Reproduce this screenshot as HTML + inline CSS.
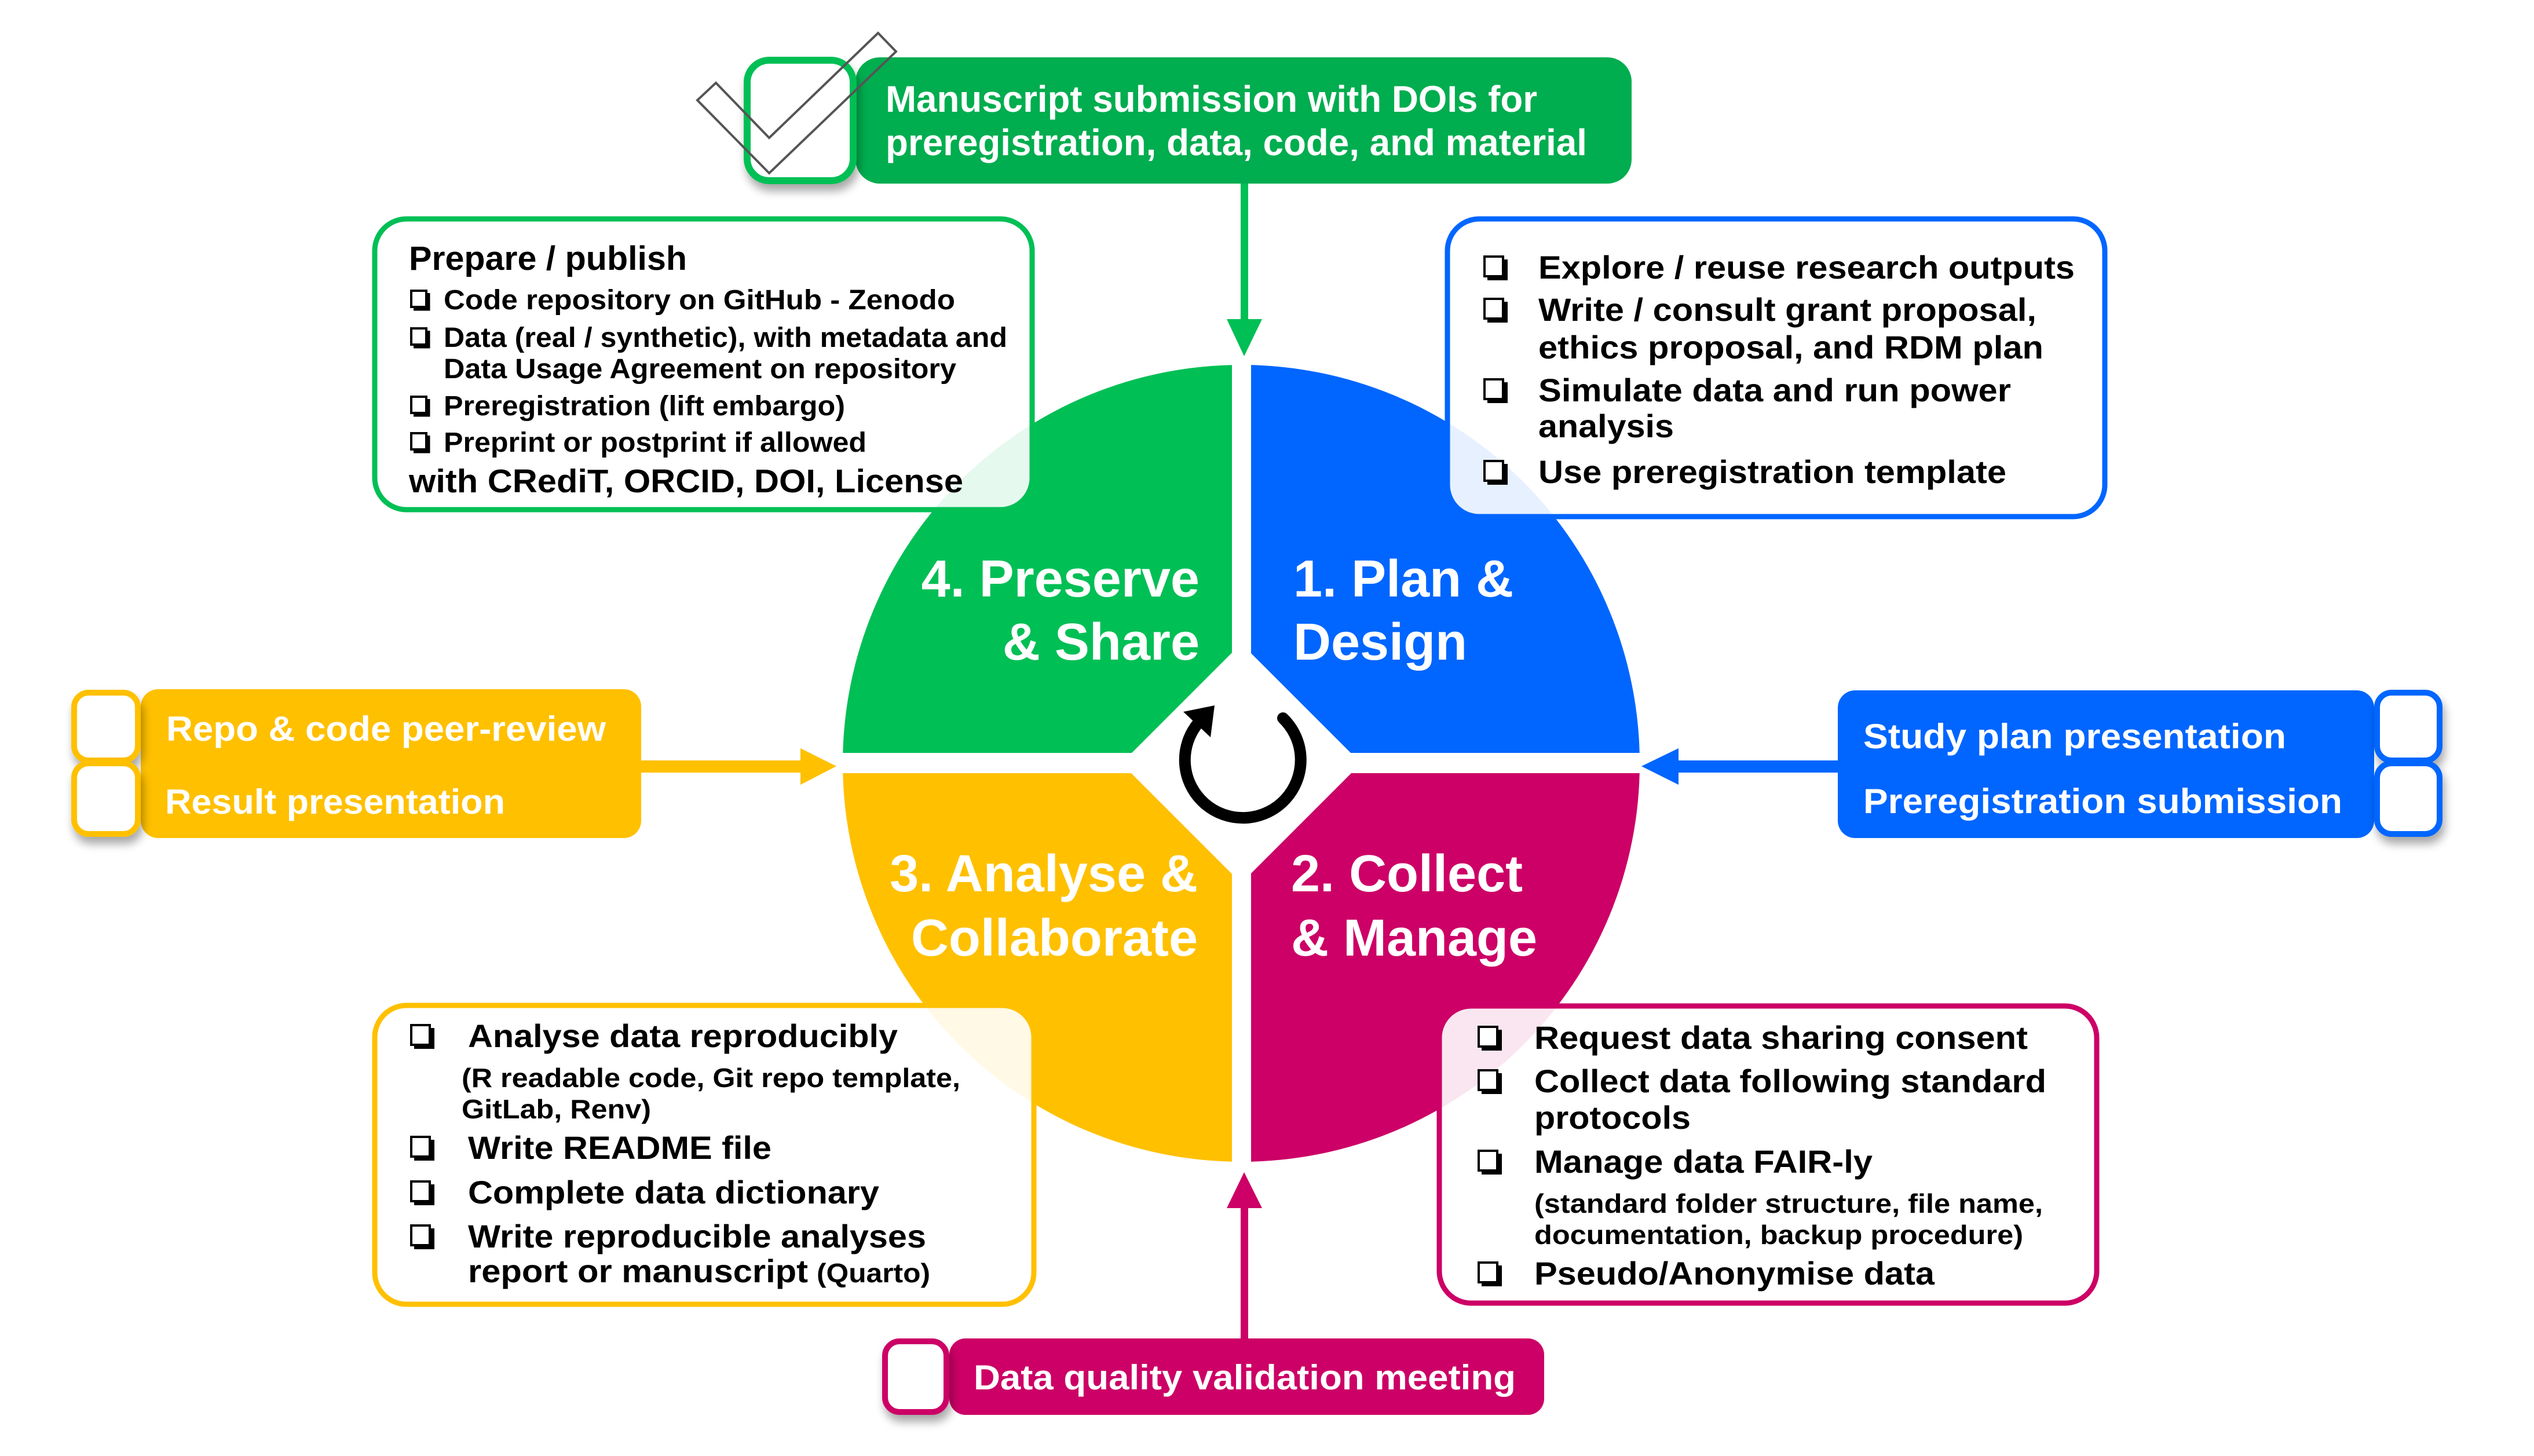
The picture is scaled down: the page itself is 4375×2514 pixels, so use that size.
<!DOCTYPE html>
<html><head><meta charset="utf-8">
<style>
html,body{margin:0;padding:0;background:#fff;}
svg{display:block;}
text{font-family:"Liberation Sans",Arial,sans-serif;font-weight:bold;}
</style></head>
<body>
<svg xmlns="http://www.w3.org/2000/svg" width="4375" height="2514" viewBox="0 0 4375 2514">
<defs>
<filter id="sh" x="-30%" y="-30%" width="160%" height="160%">
<feGaussianBlur in="SourceAlpha" stdDeviation="8"/>
<feOffset dx="4" dy="12" result="b"/>
<feComponentTransfer><feFuncA type="linear" slope="0.35"/></feComponentTransfer>
<feMerge><feMergeNode/><feMergeNode in="SourceGraphic"/></feMerge>
</filter>
<g id="cb">
<path d="M6 6 H36 V38" fill="none" stroke="#000" stroke-width="0"/>
</g>
</defs>
<rect width="4375" height="2514" fill="#fff"/>

<!-- quadrants -->
<path d="M2143,1318 L2143,630 A688,688 0 0 0 1455,1318 Z" fill="#00BF55"/>
<path d="M2143,1318 L2143,630 A688,688 0 0 1 2831,1318 Z" fill="#0066FF"/>
<path d="M2143,1318 L2831,1318 A688,688 0 0 1 2143,2006 Z" fill="#CC0066"/>
<path d="M2143,1318 L2143,2006 A688,688 0 0 1 1455,1318 Z" fill="#FFC000"/>
<rect x="2127" y="600" width="33" height="1440" fill="#fff"/>
<rect x="1420" y="1300" width="1440" height="35" fill="#fff"/>
<polygon points="2143,1111 2350,1318 2143,1525 1936,1318" fill="#fff"/>

<!-- cycle arrow -->
<path d="M2215,1240 A100,100 0 1 1 2069,1248" fill="none" stroke="#000" stroke-width="20" stroke-linecap="round"/>
<polygon points="2043,1229 2097,1218 2090,1273" fill="#000"/>

<!-- quadrant labels -->
<g fill="#fff" font-size="90">
<text x="2071" y="1030" text-anchor="end">4. Preserve</text>
<text x="2071" y="1139" text-anchor="end">&amp; Share</text>
<text x="2233" y="1030">1. Plan &amp;</text>
<text x="2233" y="1139">Design</text>
<text x="2068" y="1539" text-anchor="end">3. Analyse &amp;</text>
<text x="2068" y="1650" text-anchor="end">Collaborate</text>
<text x="2229" y="1539">2. Collect</text>
<text x="2229" y="1650">&amp; Manage</text>
</g>

<!-- top banner -->
<rect x="1477" y="99" width="1340" height="218" rx="42" fill="#00AD4F"/>
<rect x="1290" y="104" width="183" height="208" rx="38" fill="#fff" stroke="#00BF55" stroke-width="12" filter="url(#sh)"/>
<polygon points="1236,143 1328,238 1516,57 1547,89 1328,299 1204,173" fill="none" stroke="#555" stroke-width="4"/>
<g fill="#fff" font-size="64">
<text x="1529" y="193" textLength="1125" lengthAdjust="spacingAndGlyphs">Manuscript submission with DOIs for</text>
<text x="1529" y="268" textLength="1211" lengthAdjust="spacingAndGlyphs">preregistration, data, code, and material</text>
</g>
<rect x="2142" y="317" width="13" height="240" fill="#00BF55"/>
<polygon points="2118,551 2179,551 2148,615" fill="#00BF55"/>

<!-- green box -->
<rect x="647" y="378" width="1135" height="502" rx="55" fill="#fff" fill-opacity="0.9" stroke="#00BF55" stroke-width="9"/>
<g fill="#000">
<text x="706" y="466" font-size="58" textLength="480" lengthAdjust="spacingAndGlyphs">Prepare / publish</text>
<g font-size="48">
<text x="766" y="534" textLength="883" lengthAdjust="spacingAndGlyphs">Code repository on  GitHub - Zenodo</text>
<text x="766" y="599" textLength="973" lengthAdjust="spacingAndGlyphs">Data (real / synthetic), with metadata and</text>
<text x="766" y="653" textLength="885" lengthAdjust="spacingAndGlyphs">Data Usage Agreement on repository</text>
<text x="766" y="717" textLength="693" lengthAdjust="spacingAndGlyphs">Preregistration (lift embargo)</text>
<text x="766" y="780" textLength="730" lengthAdjust="spacingAndGlyphs">Preprint or postprint if allowed</text>
</g>
<text x="706" y="850" font-size="57" textLength="957" lengthAdjust="spacingAndGlyphs">with CRediT, ORCID, DOI, License</text>
</g>
<g fill="#fff" stroke="#000" stroke-width="4">
<rect x="710" y="502" width="26" height="28"/><rect x="710" y="567" width="26" height="28"/><rect x="710" y="685" width="26" height="28"/><rect x="710" y="748" width="26" height="28"/>
</g>
<g fill="none" stroke="#000" stroke-width="5">
<path d="M714,534 H740 V506"/><path d="M714,599 H740 V571"/><path d="M714,717 H740 V689"/><path d="M714,780 H740 V752"/>
</g>

<!-- blue box -->
<rect x="2499" y="378" width="1135" height="514" rx="55" fill="#fff" fill-opacity="0.9" stroke="#0066FF" stroke-width="9"/>
<g fill="#000" font-size="56">
<text x="2656" y="481" textLength="926" lengthAdjust="spacingAndGlyphs">Explore / reuse research outputs</text>
<text x="2656" y="554" textLength="860" lengthAdjust="spacingAndGlyphs">Write / consult grant proposal,</text>
<text x="2656" y="619" textLength="872" lengthAdjust="spacingAndGlyphs">ethics proposal, and RDM plan</text>
<text x="2656" y="693" textLength="816" lengthAdjust="spacingAndGlyphs">Simulate data and run power</text>
<text x="2656" y="755" textLength="234" lengthAdjust="spacingAndGlyphs">analysis</text>
<text x="2656" y="834" textLength="808" lengthAdjust="spacingAndGlyphs">Use preregistration template</text>
</g>
<g fill="#fff" stroke="#000" stroke-width="4">
<rect x="2563" y="443" width="32" height="34"/><rect x="2563" y="516" width="32" height="34"/><rect x="2563" y="655" width="32" height="34"/><rect x="2563" y="796" width="32" height="34"/>
</g>
<g fill="none" stroke="#000" stroke-width="6">
<path d="M2568,481 H2600 V448"/><path d="M2568,554 H2600 V521"/><path d="M2568,693 H2600 V660"/><path d="M2568,834 H2600 V801"/>
</g>

<!-- yellow box -->
<rect x="647" y="1736" width="1138" height="516" rx="55" fill="#fff" fill-opacity="0.9" stroke="#FFC000" stroke-width="9"/>
<g fill="#000" font-size="56">
<text x="808" y="1808" textLength="742" lengthAdjust="spacingAndGlyphs">Analyse data reproducibly</text>
<text x="797" y="1877" font-size="46" textLength="861" lengthAdjust="spacingAndGlyphs">(R readable code, Git repo template,</text>
<text x="797" y="1931" font-size="46" textLength="327" lengthAdjust="spacingAndGlyphs">GitLab, Renv)</text>
<text x="808" y="2001" textLength="524" lengthAdjust="spacingAndGlyphs">Write README file</text>
<text x="808" y="2078" textLength="710" lengthAdjust="spacingAndGlyphs">Complete data dictionary</text>
<text x="808" y="2154" textLength="791" lengthAdjust="spacingAndGlyphs">Write reproducible analyses</text>
<text x="808" y="2214" textLength="587" lengthAdjust="spacingAndGlyphs">report or manuscript</text>
<text x="1410" y="2214" font-size="46" textLength="196" lengthAdjust="spacingAndGlyphs">(Quarto)</text>
</g>
<g fill="#fff" stroke="#000" stroke-width="4">
<rect x="710" y="1770" width="32" height="34"/><rect x="710" y="1963" width="32" height="34"/><rect x="710" y="2040" width="32" height="34"/><rect x="710" y="2116" width="32" height="34"/>
</g>
<g fill="none" stroke="#000" stroke-width="6">
<path d="M715,1808 H747 V1775"/><path d="M715,2001 H747 V1968"/><path d="M715,2078 H747 V2045"/><path d="M715,2154 H747 V2121"/>
</g>

<!-- magenta box -->
<rect x="2485" y="1737" width="1135" height="513" rx="55" fill="#fff" fill-opacity="0.9" stroke="#CC0066" stroke-width="9"/>
<g fill="#000" font-size="56">
<text x="2649" y="1811" textLength="852" lengthAdjust="spacingAndGlyphs">Request data sharing consent</text>
<text x="2649" y="1886" textLength="884" lengthAdjust="spacingAndGlyphs">Collect data following standard</text>
<text x="2649" y="1949" textLength="270" lengthAdjust="spacingAndGlyphs">protocols</text>
<text x="2649" y="2025" textLength="584" lengthAdjust="spacingAndGlyphs">Manage data FAIR-ly</text>
<text x="2649" y="2094" font-size="46" textLength="878" lengthAdjust="spacingAndGlyphs">(standard folder structure, file name,</text>
<text x="2649" y="2148" font-size="46" textLength="844" lengthAdjust="spacingAndGlyphs">documentation, backup procedure)</text>
<text x="2649" y="2218" textLength="691" lengthAdjust="spacingAndGlyphs">Pseudo/Anonymise data</text>
</g>
<g fill="#fff" stroke="#000" stroke-width="4">
<rect x="2553" y="1773" width="32" height="34"/><rect x="2553" y="1848" width="32" height="34"/><rect x="2553" y="1987" width="32" height="34"/><rect x="2553" y="2180" width="32" height="34"/>
</g>
<g fill="none" stroke="#000" stroke-width="6">
<path d="M2558,1811 H2590 V1778"/><path d="M2558,1886 H2590 V1853"/><path d="M2558,2025 H2590 V1992"/><path d="M2558,2218 H2590 V2185"/>
</g>

<!-- left yellow items -->
<rect x="243" y="1190" width="864" height="257" rx="30" fill="#FFC000"/>
<rect x="128" y="1196" width="110" height="117" rx="25" fill="#fff" stroke="#FFC000" stroke-width="10" filter="url(#sh)"/>
<rect x="128" y="1318" width="110" height="122" rx="25" fill="#fff" stroke="#FFC000" stroke-width="10" filter="url(#sh)"/>
<g fill="#fff" font-size="60">
<text x="287" y="1279" textLength="759" lengthAdjust="spacingAndGlyphs">Repo &amp; code peer-review</text>
<text x="285" y="1405" textLength="587" lengthAdjust="spacingAndGlyphs">Result presentation</text>
</g>
<rect x="1107" y="1313" width="280" height="21" fill="#FFC000"/>
<polygon points="1382,1292 1444,1323 1382,1355" fill="#FFC000"/>

<!-- right blue items -->
<rect x="3173" y="1192" width="926" height="255" rx="30" fill="#0066FF"/>
<rect x="4104" y="1196" width="108" height="117" rx="25" fill="#fff" stroke="#0066FF" stroke-width="10" filter="url(#sh)"/>
<rect x="4104" y="1318" width="108" height="122" rx="25" fill="#fff" stroke="#0066FF" stroke-width="10" filter="url(#sh)"/>
<g fill="#fff" font-size="60">
<text x="3217" y="1292" textLength="730" lengthAdjust="spacingAndGlyphs">Study plan presentation</text>
<text x="3217" y="1404" textLength="827" lengthAdjust="spacingAndGlyphs">Preregistration submission</text>
</g>
<rect x="2890" y="1313" width="283" height="21" fill="#0066FF"/>
<polygon points="2898,1292 2834,1323 2898,1355" fill="#0066FF"/>

<!-- bottom magenta -->
<rect x="1639" y="2311" width="1027" height="132" rx="28" fill="#CC0066"/>
<rect x="1528" y="2316" width="106" height="122" rx="25" fill="#fff" stroke="#CC0066" stroke-width="10" filter="url(#sh)"/>
<text x="1681" y="2399" fill="#fff" font-size="60" textLength="936" lengthAdjust="spacingAndGlyphs">Data quality validation meeting</text>
<rect x="2142" y="2080" width="13" height="231" fill="#CC0066"/>
<polygon points="2118,2086 2179,2086 2148,2024" fill="#CC0066"/>
</svg>
</body></html>
